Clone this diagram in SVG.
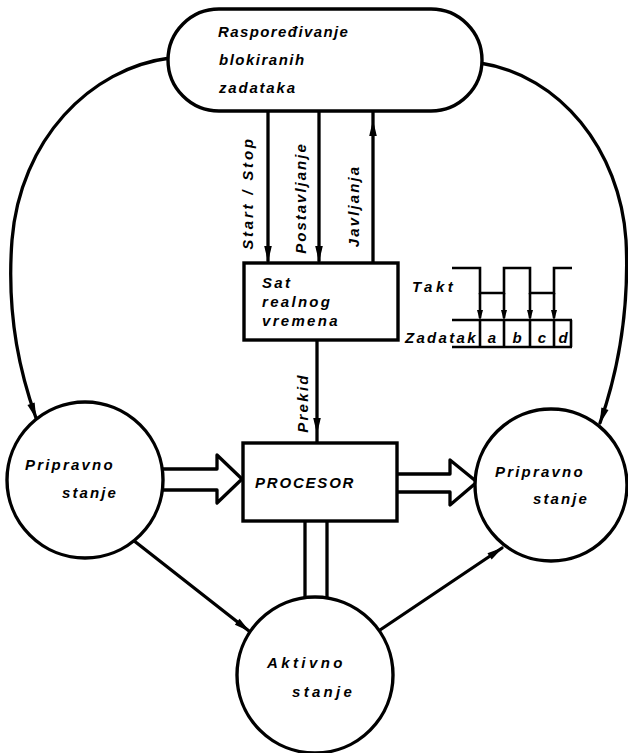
<svg xmlns="http://www.w3.org/2000/svg" width="628" height="753" viewBox="0 0 628 753">
  <style>
    .ln { fill: none; stroke: #000; stroke-width: 3.3; stroke-linecap: round; stroke-linejoin: round; }
    .thin { fill: none; stroke: #000; stroke-width: 2.6; }
    .node { fill: #fff; stroke: #000; stroke-width: 3.4; }
    .t { font-family: "Liberation Sans", Arial, sans-serif; font-style: italic; font-weight: bold; font-size: 15px; fill: #000; }
  </style>
  <defs>
    <marker id="ah" markerUnits="userSpaceOnUse" markerWidth="20" markerHeight="12" viewBox="-16 -6 18 12" refX="0" refY="0" orient="auto">
      <path d="M1,0 L-15,-3.8 L-15,3.8 Z" fill="#000"/>
    </marker>
  </defs>
  <rect width="628" height="753" fill="#fff"/>

  <!-- connectors -->
  <g id="connectors">
    <!-- scheduler to the two ready states -->
    <path class="ln" d="M170,58 C90,68 20,140 12,240 C6,320 22,378 36,418" marker-end="url(#ah)"/>
    <path class="ln" d="M480,63 C560,75 620,150 626,240 C630,320 615,380 600,423" marker-end="url(#ah)"/>
    <!-- scheduler to real-time clock -->
    <path class="ln" d="M268,111 L268,261" marker-end="url(#ah)"/>
    <path class="ln" d="M319,111 L319,261" marker-end="url(#ah)"/>
    <path class="ln" d="M373,263 L373,121 L373,111" marker-mid="url(#ah)"/>
    <!-- interrupt -->
    <path class="ln" d="M317,340 L317,433 L317,443" marker-mid="url(#ah)"/>
    <!-- hollow transfer arrows -->
    <polyline class="ln" points="162,469 217,469 217,455 242,479 217,503 217,490 162,490"/>
    <polyline class="ln" points="397,474 450,474 450,460 477,482 450,505 450,492 397,492"/>
    <!-- processor to active state -->
    <path class="ln" d="M305,521 L305,598 M327,521 L327,598"/>
    <!-- state transitions -->
    <path class="ln" d="M133,540 L249,631" marker-end="url(#ah)"/>
    <path class="ln" d="M380,630 L502,548" marker-end="url(#ah)"/>
  </g>

  <!-- labels on the connectors -->
  <g id="connector-labels" class="t">
    <text transform="translate(253,193) rotate(-90)" text-anchor="middle" letter-spacing="2.8">Start / Stop</text>
    <text transform="translate(306,198) rotate(-90)" text-anchor="middle" letter-spacing="2">Postavljanje</text>
    <text transform="translate(359,206) rotate(-90)" text-anchor="middle" letter-spacing="2.1">Javljanja</text>
    <text transform="translate(308,403) rotate(-90)" text-anchor="middle" letter-spacing="2.3">Prekid</text>
  </g>

  <!-- scheduler of blocked tasks -->
  <g id="scheduler">
    <rect class="node" x="168" y="9" width="314" height="102" rx="51" ry="51"/>
    <text class="t" font-size="17" letter-spacing="1.4" x="218" y="37">Raspoređivanje</text>
    <text class="t" font-size="17" letter-spacing="1.5" x="219" y="65">blokiranih</text>
    <text class="t" font-size="17" letter-spacing="1.8" x="219" y="93">zadataka</text>
  </g>

  <!-- real-time clock -->
  <g id="clock">
    <rect class="node" x="244" y="263" width="154" height="77"/>
    <text class="t" font-size="16" letter-spacing="2.3" x="262" y="288">Sat</text>
    <text class="t" font-size="16" letter-spacing="2.3" x="262" y="307">realnog</text>
    <text class="t" font-size="16" letter-spacing="2.3" x="262" y="326">vremena</text>
  </g>

  <!-- clock pulses and task slots -->
  <g id="timing">
    <polyline class="thin" points="452,268 480,268 480,293 504,293 504,268 530,268 530,293 554,293 554,268 572,268"/>
    <path class="thin" d="M480,293 L480,318 M504,293 L504,318 M530,293 L530,318 M554,293 L554,318"/>
    <path d="M480,321 L477,310 L483,310 Z M504,321 L501,310 L507,310 Z M530,321 L527,310 L533,310 Z M554,321 L551,310 L557,310 Z" fill="#000"/>
    <path class="thin" d="M452,320 L572,320 M452,347 L572,347 M480,320 L480,347 M504,320 L504,347 M530,320 L530,347 M554,320 L554,347 M571,320 L571,347"/>
    <text class="t" letter-spacing="3.5" x="412" y="292">Takt</text>
    <text class="t" letter-spacing="2.3" x="405" y="343">Zadatak</text>
    <text class="t" x="492" y="343" text-anchor="middle">a</text>
    <text class="t" x="517" y="343" text-anchor="middle">b</text>
    <text class="t" x="542" y="343" text-anchor="middle">c</text>
    <text class="t" x="563" y="343" text-anchor="middle">d</text>
  </g>

  <!-- processor -->
  <g id="processor">
    <rect class="node" x="243" y="443" width="154" height="78"/>
    <text class="t" font-size="17" letter-spacing="1.8" x="255" y="488">PROCESOR</text>
  </g>

  <!-- ready state, left -->
  <g id="ready-left">
    <circle class="node" cx="85" cy="480" r="78"/>
    <text class="t" letter-spacing="2.2" x="25" y="470">Pripravno</text>
    <text class="t" letter-spacing="2.1" x="62" y="498">stanje</text>
  </g>

  <!-- ready state, right -->
  <g id="ready-right">
    <circle class="node" cx="551" cy="485" r="76"/>
    <text class="t" letter-spacing="2.2" x="495" y="477">Pripravno</text>
    <text class="t" letter-spacing="2.1" x="533" y="504">stanje</text>
  </g>

  <!-- active state -->
  <g id="active">
    <circle class="node" cx="315" cy="675" r="78"/>
    <text class="t" font-size="16" letter-spacing="3.4" x="267" y="668">Aktivno</text>
    <text class="t" font-size="16" letter-spacing="3.3" x="292" y="697">stanje</text>
  </g>
</svg>
